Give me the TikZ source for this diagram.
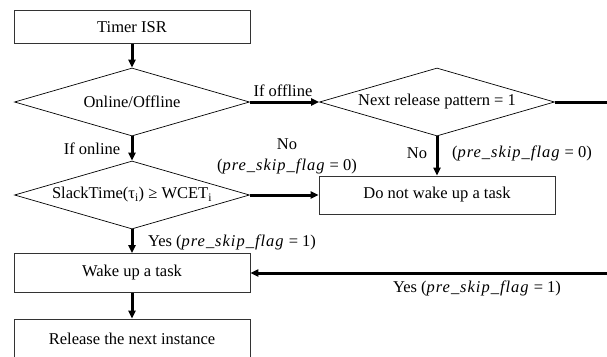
\documentclass[tikz,border=0pt]{standalone}
\usepackage{fontspec}
\setmainfont{Liberation Serif}
\usetikzlibrary{arrows.meta,shapes.geometric}
\newcommand{\skipflag}[1]{(\textit{\addfontfeature{LetterSpace=6}pre\_skip\_flag} = #1)}

\begin{document}
\begin{tikzpicture}[x=1pt,y=-1pt,
  font=\fontsize{16.5}{21}\selectfont,
  block/.style={rectangle,draw=black!80,line width=0.8pt,minimum width=236pt,minimum height=39pt,inner sep=0pt},
  decision/.style={diamond,draw=black,line width=0.7pt,minimum width=235pt,minimum height=68pt,inner sep=0pt},
  txt/.style={inner sep=0pt,align=center}]
\clip (0,0) rectangle (607,356);

\begin{scope}
    \node[block,minimum height=33pt] (isr) at (132,27) {Timer ISR};
    \node[decision,label=center:Online/Offline] (mode) at (132,102) {};
    \node[decision,label=center:{Next release pattern = 1}] (pattern) at (437,102) {};
    \node[decision,label={center:SlackTime(τ\textsubscript{i}) ≥ WCET\textsubscript{i}}] (slack) at (132,195) {};
    \node[block,minimum height=38pt] (skip) at (437,195) {Do not wake up a task};
    \node[block] (wake) at (132,273) {Wake up a task};
    \node[block,minimum height=40pt] (release) at (132,339) {Release the next instance};
    \coordinate (exitR) at (607,102);
    \coordinate (backR) at (607,273);
\end{scope}

\begin{scope}[>={Triangle[length=8pt,width=7pt]},
              every edge/.style={draw=black,line width=3pt}]
    \path [->] (isr) edge (mode);
    \path [->] (mode) edge (pattern);
    \path [-] (pattern) edge (exitR);
    \path [->] (mode) edge (slack);
    \path [->] (pattern) edge (skip);
    \path [->] (slack) edge (skip);
    \path [->] (slack) edge (wake);
    \path [->] (backR) edge (wake);
    \path [->] (wake) edge (release);
\end{scope}

\node[txt] (offl) at (283,91) {If offline};
\node[txt] (onl) at (92,149) {If online};
\node[txt] (no1) at (287,156) {No\\\skipflag{0}};
\node[txt] (no2) at (417,153) {No};
\node[txt] (flag2) at (522,153) {\skipflag{0}};
\node[txt] (yes1) at (232,242) {Yes \skipflag{1}};
\node[txt] (yes2) at (477,288) {Yes \skipflag{1}};
\end{tikzpicture}
\end{document}
